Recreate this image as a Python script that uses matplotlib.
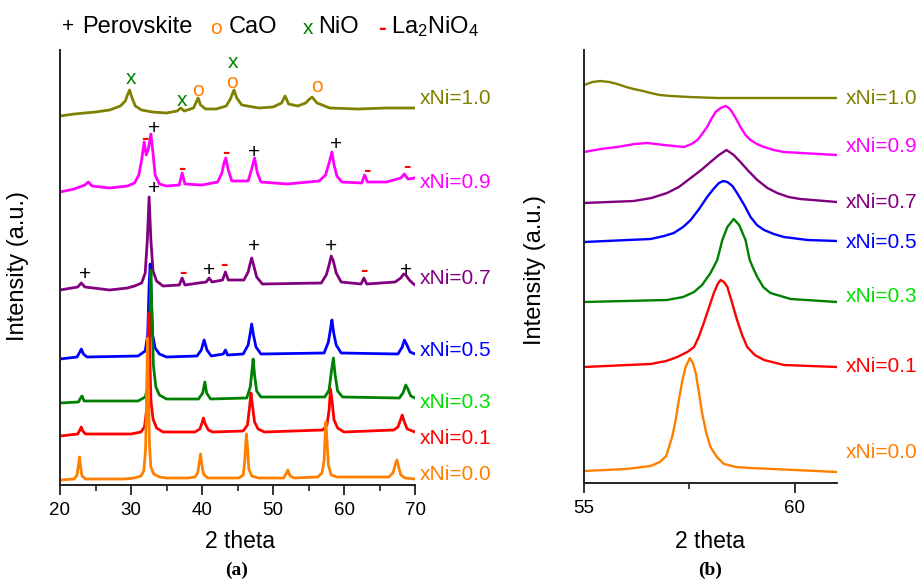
import matplotlib
matplotlib.use("Agg")
import matplotlib.pyplot as plt
from matplotlib.ticker import MultipleLocator

plt.rcParams['font.family'] = ['Liberation Sans', 'DejaVu Sans']
plt.rcParams['mathtext.fontset'] = 'custom'
plt.rcParams['mathtext.rm'] = 'Liberation Sans'

# ---------------- data: panel (a), full pattern (2theta, stacked intensity) ----------------
series_names = ["xNi=0.0", "xNi=0.1", "xNi=0.3", "xNi=0.5", "xNi=0.7", "xNi=0.9", "xNi=1.0"]
line_colors = ["#ff8000", "#ff0000", "#008000", "#0000ff", "#800080", "#ff00ff", "#808000"]
label_colors = ["#ff8000", "#ff0000", "#00e000", "#0000ff", "#800080", "#ff00ff", "#808000"]

a_x00 = [(20, 5), (22.0, 6), (22.4, 10), (22.6, 20), (22.75, 28), (22.9, 18), (23.1, 9), (23.6, 6), (29, 6),
         (30.5, 7), (31.4, 9), (31.8, 14), (32.05, 35), (32.2, 90), (32.32, 147), (32.45, 100), (32.6, 40),
         (32.8, 18), (33.2, 11), (34, 8), (35, 7), (38, 7), (39.0, 8), (39.4, 12), (39.6, 22), (39.8, 31),
         (39.95, 22), (40.2, 11), (40.8, 7), (45.2, 7), (45.8, 10), (46.0, 22), (46.15, 40), (46.25, 51),
         (46.4, 38), (46.6, 16), (47.0, 9), (48, 7), (51.5, 7), (51.9, 12), (52.1, 15), (52.4, 9), (53, 7),
         (56.3, 8), (56.9, 12), (57.2, 25), (57.35, 50), (57.45, 63), (57.6, 45), (57.8, 20), (58.2, 10),
         (59, 8), (66.3, 8), (66.9, 12), (67.2, 20), (67.45, 25), (67.7, 18), (68.0, 10), (68.6, 7), (70, 6)]
a_x01 = [(20, 49), (22.5, 51), (22.8, 55), (23.0, 58), (23.2, 54), (23.6, 51), (30, 51), (31.4, 53), (31.9, 58),
         (32.2, 75), (32.38, 125), (32.52, 172), (32.65, 130), (32.8, 85), (33.1, 66), (33.6, 57), (34.5, 53),
         (39, 53), (39.7, 56), (40.0, 62), (40.2, 67), (40.45, 61), (40.9, 55), (41.5, 53), (45.8, 54),
         (46.4, 60), (46.7, 78), (46.9, 92), (47.1, 80), (47.4, 63), (47.9, 56), (48.8, 53), (57.0, 55),
         (57.6, 60), (57.9, 75), (58.1, 96), (58.3, 85), (58.6, 65), (59.1, 57), (60, 53), (67.0, 55),
         (67.6, 58), (68.0, 66), (68.2, 70), (68.45, 64), (68.9, 56), (70, 53)]
a_x03 = [(20, 82), (22.6, 83), (22.9, 87), (23.1, 89), (23.4, 84), (31, 84), (32.0, 88), (32.4, 98), (32.6, 140),
         (32.8, 215), (32.95, 170), (33.15, 120), (33.5, 98), (34, 90), (35, 86), (39.5, 86), (40.1, 92),
         (40.4, 103), (40.65, 92), (41.2, 86), (46.3, 87), (46.8, 98), (47.05, 115), (47.2, 126), (47.4, 110),
         (47.7, 94), (48.3, 88), (57.3, 88), (57.9, 95), (58.25, 115), (58.5, 127), (58.75, 110), (59.1, 94),
         (59.8, 88), (67.8, 87), (68.3, 92), (68.7, 100), (69.0, 96), (69.4, 89), (70, 87)]
a_x05 = [(20, 126), (22.4, 128), (22.8, 133), (23.0, 136), (23.3, 131), (23.8, 128), (31, 129), (32.0, 134),
         (32.35, 150), (32.55, 200), (32.7, 221), (32.85, 190), (33.05, 150), (33.4, 137), (34, 131), (35, 128),
         (39.3, 129), (39.9, 135), (40.3, 145), (40.7, 135), (41.3, 129), (43.0, 131), (43.3, 135), (43.6, 130),
         (45.8, 131), (46.5, 140), (46.8, 152), (47.0, 161), (47.25, 150), (47.6, 138), (48.3, 131), (57.2, 132),
         (57.8, 143), (58.1, 156), (58.3, 165), (58.55, 152), (58.9, 140), (59.6, 132), (67.6, 131), (68.2, 138),
         (68.5, 145), (68.8, 141), (69.3, 133), (70, 131)]
a_x07 = [(20, 195), (22.5, 198), (23.0, 202), (23.5, 198), (27, 195), (29.5, 197), (30.5, 199), (31.5, 202),
         (32.0, 212), (32.3, 245), (32.55, 288), (32.8, 245), (33.1, 214), (33.6, 204), (34.5, 199), (36.8, 200),
         (37.2, 207), (37.6, 200), (39.5, 202), (40.6, 203), (41.0, 207), (41.4, 203), (42.9, 205), (43.3, 213),
         (43.7, 205), (45.9, 205), (46.5, 213), (46.8, 222), (47.0, 227), (47.3, 219), (47.7, 208), (48.5, 201),
         (56.8, 202), (57.5, 210), (57.9, 220), (58.2, 229), (58.5, 224), (58.9, 212), (59.6, 203), (62.4, 201),
         (62.8, 207), (63.2, 201), (67.2, 203), (68.0, 207), (68.4, 211), (68.7, 210), (69.2, 205), (69.8, 201),
         (70, 200)]
a_x09 = [(20, 293), (22, 296), (23.5, 300), (24.0, 303), (24.5, 299), (27, 297), (29.5, 299), (30.5, 302),
         (31.1, 310), (31.5, 325), (31.85, 343), (32.15, 330), (32.45, 336), (32.8, 351), (33.1, 332), (33.4, 310),
         (34.0, 301), (35, 299), (36.8, 300), (37.2, 312), (37.6, 301), (40, 300), (42.2, 303), (42.8, 312),
         (43.1, 322), (43.35, 327), (43.7, 315), (44.2, 304), (46.5, 304), (47.0, 316), (47.4, 327), (47.8, 312),
         (48.3, 303), (52, 301), (56.5, 304), (57.4, 310), (57.9, 322), (58.3, 333), (58.6, 320), (59.0, 309),
         (59.7, 303), (62.5, 302), (62.9, 310), (63.3, 303), (66, 303), (68.0, 307), (68.5, 311), (69, 306),
         (70, 307)]
a_x10 = [(20, 369), (22, 371), (25, 373), (27, 375), (28.5, 379), (29.2, 384), (29.55, 391), (29.8, 395),
         (30.1, 388), (30.6, 379), (31.5, 375), (33, 373), (35, 372), (36.5, 374), (37.0, 377), (37.5, 374),
         (38.8, 377), (39.2, 383), (39.45, 387), (39.8, 380), (40.5, 376), (42, 376), (43.4, 379), (44.0, 386),
         (44.5, 395), (44.9, 387), (45.6, 380), (48, 377), (50, 378), (51.2, 382), (51.7, 389), (52.2, 381),
         (53.5, 379), (54.6, 382), (55.0, 385), (55.5, 388), (56.2, 382), (58, 377), (62, 376), (66, 377),
         (70, 377)]
a_series = [a_x00, a_x01, a_x03, a_x05, a_x07, a_x09, a_x10]
a_label_y = [10, 47, 82, 135, 206, 303, 387]

# phase markers (2theta, height)
perovskite_marks = [(33.2, 356), (47.3, 333), (58.9, 340), (33.2, 296), (23.5, 211), (41.0, 215),
                    (47.3, 238), (58.2, 238), (68.7, 215)]
la2nio4_marks = [(32.0, 347), (37.2, 317), (43.4, 332), (63.2, 315), (68.9, 319),
                 (37.3, 212), (43.1, 220), (62.8, 214)]
nio_marks = [(30.0, 407), (37.2, 385), (44.4, 422)]
cao_marks = [(39.4, 395), (44.2, 402), (56.2, 399)]

# ---------------- data: panel (b), zoom 55-61 ----------------
b_x00 = [(55, 12), (56.0, 14), (56.58, 17), (56.8, 21), (56.95, 27), (57.09, 46), (57.17, 62), (57.25, 83),
         (57.33, 102), (57.41, 116), (57.51, 125), (57.58, 120), (57.65, 110), (57.72, 92), (57.8, 70),
         (57.9, 50), (58.0, 36), (58.15, 26), (58.32, 19), (58.6, 16), (58.95, 15), (60, 13), (61, 11)]
b_x01 = [(55, 116), (56.58, 119), (56.95, 122), (57.21, 126), (57.45, 131), (57.61, 136), (57.72, 146),
         (57.84, 160), (57.96, 175), (58.08, 190), (58.17, 199), (58.24, 203), (58.32, 201), (58.4, 196),
         (58.5, 182), (58.63, 163), (58.75, 148), (58.87, 136), (59.05, 128), (59.27, 123), (59.74, 118),
         (61, 116)]
b_x03 = [(55, 181), (56.97, 183), (57.35, 186), (57.61, 191), (57.8, 198), (58.0, 210), (58.16, 223),
         (58.28, 243), (58.4, 256), (58.55, 264), (58.68, 258), (58.83, 243), (58.93, 223), (59.02, 214),
         (59.11, 206), (59.25, 196), (59.42, 190), (59.9, 184), (61, 181)]
b_x05 = [(55, 241), (56.58, 244), (56.9, 247), (57.13, 250), (57.35, 256), (57.53, 263), (57.73, 274),
         (57.92, 286), (58.07, 294), (58.2, 300), (58.3, 302), (58.4, 301), (58.52, 297), (58.63, 290),
         (58.8, 278), (58.95, 266), (59.1, 258), (59.27, 253), (59.5, 249), (59.74, 246), (60.3, 243),
         (61, 242)]
b_x07 = [(55, 280), (56.18, 282), (56.6, 285), (56.97, 290), (57.25, 296), (57.53, 305), (57.78, 313),
         (58.0, 321), (58.2, 328), (58.38, 333), (58.55, 328), (58.71, 321), (58.9, 312), (59.11, 303),
         (59.35, 295), (59.58, 290), (59.85, 286), (60.13, 284), (61, 281)]
b_x09 = [(55, 331), (55.4, 334), (55.79, 336), (56.2, 339), (56.5, 340), (56.9, 338), (57.37, 336),
         (57.55, 339), (57.69, 343), (57.8, 349), (57.92, 356), (58.02, 364), (58.12, 371), (58.24, 375),
         (58.36, 377), (58.44, 375), (58.51, 371), (58.61, 364), (58.71, 356), (58.83, 348), (58.95, 343),
         (59.1, 339), (59.27, 336), (59.5, 333), (59.74, 331), (61, 328)]
b_x10 = [(55, 398), (55.2, 401), (55.39, 402), (55.6, 401), (55.79, 399), (56.0, 396), (56.18, 394),
         (56.4, 392), (56.58, 390), (56.8, 388), (57.05, 387), (57.5, 386), (58.16, 385), (61, 385)]
b_series = [b_x00, b_x01, b_x03, b_x05, b_x07, b_x09, b_x10]
b_label_y = [30, 117, 186, 241, 280, 336, 385]

a_xticks = [20, 30, 40, 50, 60, 70]
b_xticks = [55, 60]

# ---------------- figure ----------------
W, H = 921, 581
fig = plt.figure(figsize=(W / 100, H / 100), dpi=100)
axa = fig.add_axes([60 / W, 1 - 485 / H, 355 / W, 435 / H])
axb = fig.add_axes([584 / W, 1 - 483 / H, 253 / W, 433 / H])


def style(ax):
    for s in ("top", "right"):
        ax.spines[s].set_visible(False)
    for s in ("left", "bottom"):
        ax.spines[s].set_linewidth(1.4)
        ax.spines[s].set_color("#222222")
        ax.spines[s].set_zorder(20)
    ax.set_yticks([])
    ax.tick_params(axis="x", which="major", length=7, width=1.3, labelsize=13.5, pad=5, color="#222222")
    ax.tick_params(axis="x", which="minor", length=4, width=1.2, color="#222222")


for ax in (axa, axb):
    style(ax)

for i, (pts, c) in enumerate(zip(a_series, line_colors)):
    xs, ys = zip(*pts)
    axa.plot(xs, ys, color=c, lw=2.0, solid_joinstyle="round", zorder=10 - i)
axa.set_xlim(20, 70)
axa.set_ylim(0, 435)
axa.set_xticks(a_xticks)
axa.xaxis.set_minor_locator(MultipleLocator(5))

for name, y, c in zip(series_names, a_label_y, label_colors):
    axa.text(70.7, y, name, color=c, fontsize=15, va="center", ha="left", clip_on=False)

for x, y in perovskite_marks:
    axa.text(x, y, "+", color="black", fontsize=15, ha="center", va="center", zorder=15)
for x, y in la2nio4_marks:
    axa.text(x, y, "-", color="red", fontsize=16, fontweight="bold", ha="center", va="center", zorder=15)
for x, y in nio_marks:
    axa.text(x, y, "x", color="#008000", fontsize=15, ha="center", va="center", zorder=15)
for x, y in cao_marks:
    axa.text(x, y, "o", color="#ff8000", fontsize=15, ha="center", va="center", zorder=15)

for i, (pts, c) in enumerate(zip(b_series, line_colors)):
    xs, ys = zip(*pts)
    axb.plot(xs, ys, color=c, lw=1.7, solid_joinstyle="round", zorder=10 - i)
axb.set_xlim(55, 61)
axb.set_ylim(0, 433)
axb.set_xticks(b_xticks)
axb.xaxis.set_minor_locator(MultipleLocator(2.5))

for name, y, c in zip(series_names, b_label_y, label_colors):
    axb.text(61.2, y, name, color=c, fontsize=15, va="center", ha="left", clip_on=False)


# legend row
def ftxt(px, py, s, **kw):
    fig.text(px / W, 1 - py / H, s, **kw)


ftxt(68, 27, "+", color="black", fontsize=15, ha="center", va="center")
ftxt(82, 27, "Perovskite", color="black", fontsize=17, ha="left", va="center")
ftxt(216, 29, "o", color="#ff8000", fontsize=15, ha="center", va="center")
ftxt(229, 27, "CaO", color="black", fontsize=17, ha="left", va="center")
ftxt(308, 29, "x", color="#008000", fontsize=15, ha="center", va="center")
ftxt(318, 27, "NiO", color="black", fontsize=17, ha="left", va="center")
ftxt(382, 28, "-", color="red", fontsize=17, fontweight="bold", ha="center", va="center")
ftxt(391, 27, r"La$\mathregular{_2}$NiO$\mathregular{_4}$", color="black", fontsize=17, ha="left", va="center")

# axis labels and captions
ftxt(240, 541, "2 theta", fontsize=16.5, ha="center", va="center")
ftxt(710, 541, "2 theta", fontsize=16.5, ha="center", va="center")
ftxt(18, 266, "Intensity (a.u.)", fontsize=17, ha="center", va="center", rotation=90)
ftxt(535, 270, "Intensity (a.u.)", fontsize=17, ha="center", va="center", rotation=90)
ftxt(237, 570, "(a)", fontsize=14, ha="center", va="center", family="Liberation Serif", fontweight="bold")
ftxt(710, 570, "(b)", fontsize=14, ha="center", va="center", family="Liberation Serif", fontweight="bold")

fig.savefig("out.png", dpi=100)
